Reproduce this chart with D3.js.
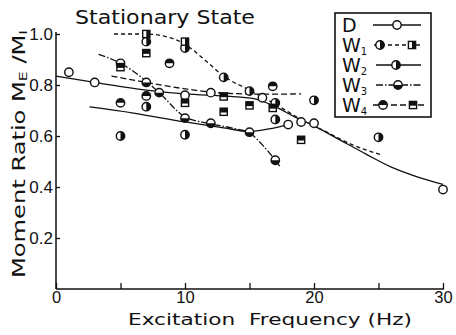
<!DOCTYPE html>
<html><head><meta charset="utf-8">
<script src="https://cdn.jsdelivr.net/npm/d3@7"></script>
<style>body{margin:0;background:#fff}svg{display:block}</style>
</head><body><svg id="c" width="456" height="335"></svg>
<script>
// ---- data ----
const xMajorTicks = [0, 10, 20, 30];
const xMinorTicks = [5, 15, 25];
const yTicks = [0.2, 0.4, 0.6, 0.8, 1.0];
const title = "Stationary State";
const xLabel = "Excitation  Frequency (Hz)";

// markers: [frequency, ratio]
const dPts  = [[1,0.85],[3,0.81],[10,0.76],[12,0.77],[16,0.75],[18,0.645],[19,0.655],[20,0.65],[30,0.39]];
const w1Circ = [[7,0.97],[10,0.945],[13,0.83],[15,0.776],[17,0.73]];
const w1Sq   = [[7,1.0],[10,0.97]];
const w2Circ = [[5,0.6],[7,0.715],[10,0.605],[17,0.665],[20,0.74],[25,0.595]];
const w3Circ = [[5,0.885],[7,0.81],[8,0.77],[10,0.67],[12,0.65],[15,0.615],[17,0.505]];
const w4Circ = [[5,0.73],[7,0.757],[8.8,0.885],[16.8,0.795]];
const w4Sq   = [[5,0.87],[7,0.925],[10,0.73],[13,0.755],[13,0.695],[15,0.72],[16.8,0.71],[19,0.585]];

// fitted curves
const dFit  = [[0,0.835],[3,0.81],[7,0.78],[10,0.765],[13.5,0.755],[15.5,0.745],[17,0.715],[18.5,0.675],[20,0.64],[22,0.585],[24,0.53],[26,0.478],[28,0.44],[30,0.41]];
const w1Fit = [[4.5,1.0],[7,1.0],[8.5,0.99],[10,0.96],[11.5,0.9],[13,0.835],[15,0.78],[17,0.725],[19,0.665],[21,0.615],[23,0.565],[25.3,0.525]];
const w2Fit = [[2.6,0.714],[6,0.69],[10,0.655],[13,0.632],[15,0.618],[16.5,0.628],[18,0.645]];
const w3Fit = [[3.3,0.92],[5,0.885],[7,0.815],[8,0.77],[10,0.675],[12,0.648],[14,0.627],[15,0.612],[16,0.565],[17.4,0.478]];
const w4Fit = [[4.3,0.835],[7,0.81],[10,0.785],[12,0.772],[14,0.766],[16,0.764],[19,0.765]];

const legendLabels = ["D","W","W","W","W"];
const legendSubs = ["","1","2","3","4"];

// ---- drawing ----
const svg = d3.select("#c");
const x = d3.scaleLinear().domain([0,30]).range([56,443]);
const y = d3.scaleLinear().domain([0,1]).range([289,34]);
const ink = "#111";
const numFont = "Liberation Sans, Arial, sans-serif";
const txtFont = "DejaVu Sans, Verdana, sans-serif";

// axes
svg.append("line").attr("x1",x(0)).attr("x2",x(30)+1).attr("y1",y(0)).attr("y2",y(0)).attr("stroke",ink).attr("stroke-width",1.5);
svg.append("line").attr("x1",x(0)).attr("x2",x(0)).attr("y1",y(0)).attr("y2",y(1.0)-2).attr("stroke",ink).attr("stroke-width",1.5);

const xAxis = d3.axisBottom(x).tickValues(xMajorTicks.concat(xMinorTicks)).tickSize(-6).tickFormat(d => xMajorTicks.includes(d) ? d3.format("d")(d) : "").tickPadding(2);
const gx = svg.append("g").attr("transform",`translate(0,${y(0)})`).call(xAxis);
gx.select(".domain").remove();
gx.selectAll(".tick line").attr("stroke",ink).attr("stroke-width",1.3);
gx.selectAll(".tick text").attr("font-family",numFont).attr("font-size",16.5).attr("fill",ink);

const yAxis = d3.axisLeft(y).tickValues(yTicks).tickSize(-4).tickFormat(d3.format(".1f")).tickPadding(6);
const gy = svg.append("g").attr("transform",`translate(${x(0)},0)`).call(yAxis);
gy.select(".domain").remove();
gy.selectAll(".tick line").attr("stroke",ink).attr("stroke-width",1.3);
gy.selectAll(".tick text").attr("font-family",numFont).attr("font-size",17).attr("fill",ink).attr("dx","3");

// title
svg.append("text").attr("x",75).attr("y",24).attr("font-family",txtFont).attr("font-size",19)
  .attr("textLength",180).attr("lengthAdjust","spacingAndGlyphs").attr("fill",ink).text(title);

// x label
svg.append("text").attr("x",128).attr("y",325).attr("font-family",txtFont).attr("font-size",16.5)
  .attr("textLength",284).attr("lengthAdjust","spacingAndGlyphs").attr("fill",ink).attr("xml:space","preserve").text(xLabel);

// y label
const yl = svg.append("text").attr("transform","translate(25,278) rotate(-90)").attr("font-family",txtFont)
  .attr("font-size",17).attr("fill",ink).attr("textLength",248).attr("lengthAdjust","spacingAndGlyphs");
yl.append("tspan").text("Moment  Ratio  M");
yl.append("tspan").attr("font-size",11).attr("dy",2).text("E");
yl.append("tspan").attr("dy",-2).text(" /M");
yl.append("tspan").attr("font-size",11).attr("dy",2).text("I");

// curves
const line = d3.line().x(d => x(d[0])).y(d => y(d[1])).curve(d3.curveMonotoneX);
function curve(data, dash){
  svg.append("path").datum(data).attr("d",line).attr("fill","none").attr("stroke",ink)
    .attr("stroke-width",1.3).attr("stroke-dasharray",dash);
}
const dashW1 = "4,3", dashW3 = "7,2,1.5,2", dashW4 = "6,3";
curve(dFit, null);
curve(w1Fit, dashW1);
curve(w2Fit, null);
curve(w3Fit, dashW3);
curve(w4Fit, dashW4);

// markers
const R = 4.2, S = 3.6;
function halfPath(cx, cy, half){
  if(half==="right") return `M${cx},${cy-R}A${R},${R} 0 0 1 ${cx},${cy+R}Z`;
  if(half==="top") return `M${cx-R},${cy}A${R},${R} 0 0 1 ${cx+R},${cy}Z`;
  if(half==="bottom") return `M${cx+R},${cy}A${R},${R} 0 0 1 ${cx-R},${cy}Z`;
  return "";
}
function circleMark(g, cx, cy, half){
  g.append("circle").attr("cx",cx).attr("cy",cy).attr("r",R).attr("fill","#fff").attr("stroke",ink).attr("stroke-width",1.4);
  if(half) g.append("path").attr("d",halfPath(cx,cy,half)).attr("fill",ink);
}
function squareMark(g, cx, cy, half){
  g.append("rect").attr("x",cx-S).attr("y",cy-S).attr("width",2*S).attr("height",2*S).attr("fill","#fff").attr("stroke",ink).attr("stroke-width",1.4);
  if(half==="right") g.append("rect").attr("x",cx).attr("y",cy-S).attr("width",S).attr("height",2*S).attr("fill",ink);
  if(half==="top") g.append("rect").attr("x",cx-S).attr("y",cy-S).attr("width",2*S).attr("height",S*1.2).attr("fill",ink);
}
const gm = svg.append("g");
function plotCircles(data, half){ data.forEach(d => circleMark(gm, x(d[0]), y(d[1]), half)); }
function plotSquares(data, half){ data.forEach(d => squareMark(gm, x(d[0]), y(d[1]), half)); }
plotCircles(dPts, null);
plotCircles(w1Circ, "right");
plotSquares(w1Sq, "right");
plotCircles(w2Circ, "right");
plotCircles(w3Circ, "bottom");
plotCircles(w4Circ, "top");
plotSquares(w4Sq, "top");

// legend
const lg = svg.append("g");
lg.append("rect").attr("x",335).attr("y",13).attr("width",96).attr("height",104).attr("fill","#fff").attr("stroke",ink).attr("stroke-width",1.6);
const rowY = [25, 45, 65, 85, 105];
legendLabels.forEach((t,i) => {
  const tx = lg.append("text").attr("x",342).attr("y",rowY[i]+7).attr("font-family",txtFont).attr("font-size",19).attr("fill",ink);
  tx.append("tspan").text(t);
  if(legendSubs[i]) tx.append("tspan").attr("font-size",10).attr("dy",3).text(legendSubs[i]);
});
function legLine(i, x1, x2, dash){
  lg.append("line").attr("x1",x1).attr("x2",x2).attr("y1",rowY[i]).attr("y2",rowY[i]).attr("stroke",ink).attr("stroke-width",1.3).attr("stroke-dasharray",dash);
}
legLine(0,373,421,null); circleMark(lg,397,rowY[0],null);
legLine(1,374,421,dashW1); circleMark(lg,380,rowY[1],"right"); squareMark(lg,412,rowY[1],"right");
legLine(2,376,421,null); circleMark(lg,396,rowY[2],"right");
legLine(3,376,421,dashW3); circleMark(lg,398,rowY[3],"bottom");
legLine(4,373,424,dashW4); circleMark(lg,383,rowY[4],"top"); squareMark(lg,413,rowY[4],"top");
</script></body></html>
